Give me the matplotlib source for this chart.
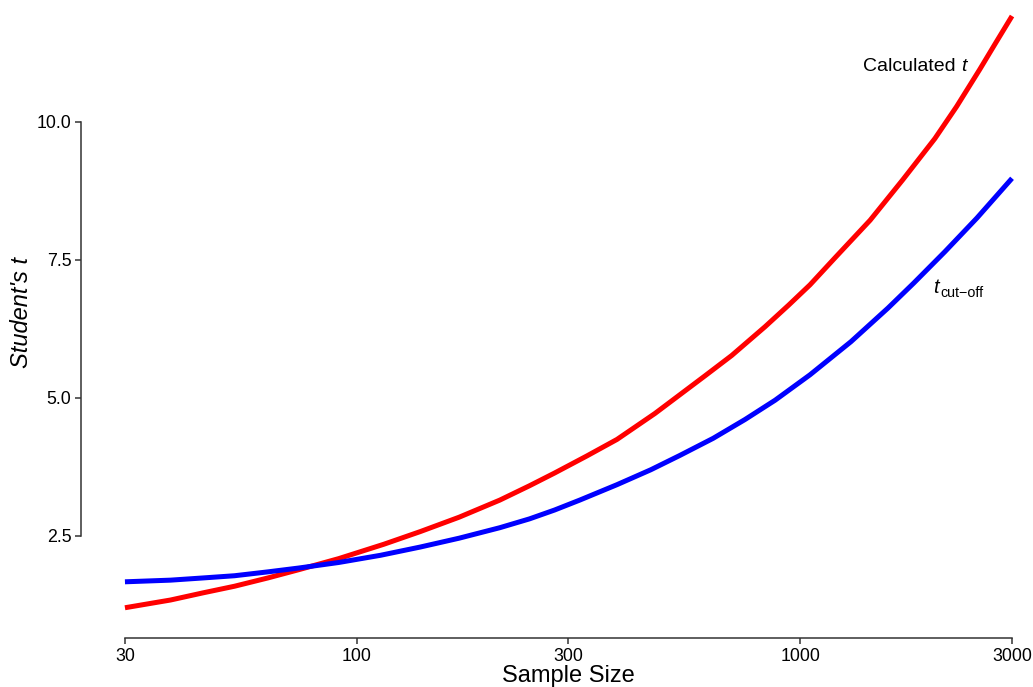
import matplotlib
matplotlib.use("Agg")
import matplotlib.pyplot as plt
from matplotlib.ticker import FixedLocator, FixedFormatter, NullLocator

plt.rcParams['font.family'] = ['Liberation Sans', 'DejaVu Sans']

# values
n_red = [30, 38, 45, 53, 63, 74, 91, 115, 139, 170, 210, 245, 279, 330, 386,
         470, 609, 700, 832, 940, 1051, 1200, 1436, 1700, 2010, 2250, 2536, 2750, 3000]
t_calc = [1.20, 1.34, 1.47, 1.59, 1.74, 1.89, 2.09, 2.35, 2.58, 2.84, 3.15, 3.41, 3.64, 3.95, 4.25,
          4.72, 5.40, 5.77, 6.29, 6.68, 7.05, 7.55, 8.22, 8.95, 9.70, 10.28, 10.95, 11.42, 11.92]

n_blue = [30, 38, 45, 53, 63, 74, 91, 113, 139, 170, 210, 245, 279, 318, 386,
          460, 535, 636, 750, 877, 1051, 1300, 1576, 1800, 2117, 2500, 3000]
t_cut = [1.67, 1.70, 1.74, 1.78, 1.85, 1.92, 2.02, 2.15, 2.30, 2.46, 2.65, 2.81, 2.97, 3.15, 3.43,
         3.70, 3.96, 4.27, 4.61, 4.96, 5.42, 6.02, 6.63, 7.08, 7.65, 8.26, 8.98]

x_ticks = [30, 100, 300, 1000, 3000]
x_labels = ['30', '100', '300', '1000', '3000']
y_ticks = [2.5, 5.0, 7.5, 10.0]
y_labels = ['2.5', '5.0', '7.5', '10.0']

fig = plt.figure(figsize=(10.33, 6.87), dpi=100)
ax = fig.add_axes([81 / 1033, 49 / 687, 952 / 1033, 638 / 687])

ax.plot(n_red, t_calc, color='#FF0000', lw=3.6, solid_capstyle='butt', solid_joinstyle='round')
ax.plot(n_blue, t_cut, color='#0000FF', lw=3.6, solid_capstyle='butt', solid_joinstyle='round')

ax.set_xscale('log')
ax.set_xlim(23.88, 3345)
ax.set_ylim(0.652, 12.21)

ax.xaxis.set_major_locator(FixedLocator(x_ticks))
ax.xaxis.set_major_formatter(FixedFormatter(x_labels))
ax.xaxis.set_minor_locator(NullLocator())
ax.yaxis.set_major_locator(FixedLocator(y_ticks))
ax.yaxis.set_major_formatter(FixedFormatter(y_labels))

for s in ['top', 'right']:
    ax.spines[s].set_visible(False)
ax.spines['left'].set_bounds(2.5, 10.0)
ax.spines['bottom'].set_bounds(30, 3000)
for s in ['left', 'bottom']:
    ax.spines[s].set_linewidth(1.1)
    ax.spines[s].set_color('#333333')

ax.tick_params(axis='both', length=4, width=1.1, color='#333333',
               labelsize=12.8, labelcolor='black', pad=3)

ax.set_xlabel('Sample Size', fontsize=17, va='center')
ax.xaxis.set_label_coords(0.512, -0.0596)
ax.set_ylabel("Student's t", fontsize=17, style='italic', va='center')
ax.yaxis.set_label_coords(-0.062, 0.511)

ax.text(2300, 11.0, 'Calculated ', fontsize=14, ha='right', va='center')
ax.text(2300, 11.0, 't', fontsize=14, style='italic', ha='left', va='center')

# t with "cut-off" subscript
ax.annotate('t', xy=(1990, 7.0), fontsize=14.5, style='italic', ha='left', va='center')
ax.annotate('cut\u2212off', xy=(1990, 7.0), xytext=(5.3, -3.8), textcoords='offset points',
            fontsize=10.3, ha='left', va='center')

fig.savefig('out.png', dpi=100)
